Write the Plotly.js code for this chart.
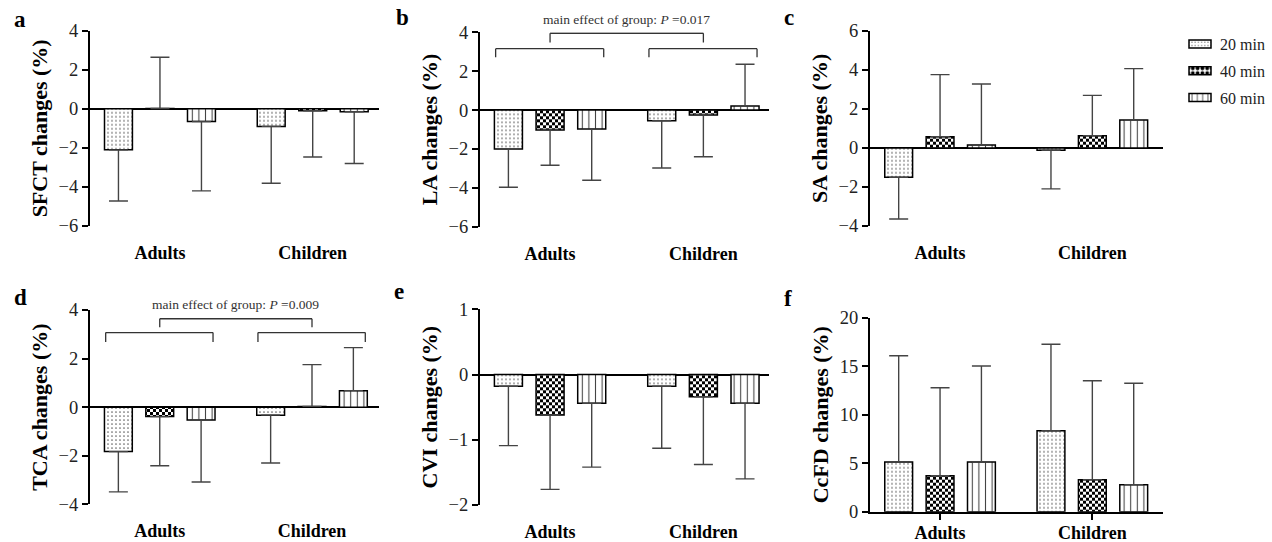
<!DOCTYPE html>
<html>
<head>
<meta charset="utf-8">
<script src="https://cdn.plot.ly/plotly-3.0.1.min.js"></script>
<style>
  html, body { margin: 0; padding: 0; background: #fff; }
  #chart { width: 1272px; height: 542px; }
</style>
</head>
<body>
<div id="chart"></div>
<script>
// ---------------- DATA ----------------
const groups = ['Adults', 'Children'];
const timeNames = ['20 min', '40 min', '60 min'];

// Panel a: SFCT changes (%)
const sfct20 = [-2.10, -0.90], sfct20_sd = [2.62, 2.91];
const sfct40 = [0.02, -0.10],  sfct40_sd = [2.62, 2.37];
const sfct60 = [-0.65, -0.15], sfct60_sd = [3.55, 2.65];

// Panel b: LA changes (%)
const la20 = [-2.00, -0.55], la20_sd = [1.97, 2.43];
const la40 = [-1.03, -0.25], la40_sd = [1.81, 2.15];
const la60 = [-0.98, 0.21],  la60_sd = [2.63, 2.15];

// Panel c: SA changes (%)
const sa20 = [-1.51, -0.12], sa20_sd = [2.13, 1.98];
const sa40 = [0.57, 0.62],   sa40_sd = [3.18, 2.07];
const sa60 = [0.15, 1.43],   sa60_sd = [3.12, 2.63];

// Panel d: TCA changes (%)
const tca20 = [-1.83, -0.33], tca20_sd = [1.66, 1.97];
const tca40 = [-0.39, 0.03],  tca40_sd = [2.02, 1.72];
const tca60 = [-0.53, 0.68],  tca60_sd = [2.55, 1.77];

// Panel e: CVI changes (%)
const cvi20 = [-0.18, -0.18], cvi20_sd = [0.91, 0.95];
const cvi40 = [-0.62, -0.34], cvi40_sd = [1.14, 1.04];
const cvi60 = [-0.44, -0.44], cvi60_sd = [0.98, 1.16];

// Panel f: CcFD changes (%)
const ccfd20 = [5.12, 8.35], ccfd20_sd = [10.96, 8.91];
const ccfd40 = [3.71, 3.30], ccfd40_sd = [9.07, 10.20];
const ccfd60 = [5.13, 2.78], ccfd60_sd = [9.89, 10.46];

const panelLetters = ['a', 'b', 'c', 'd', 'e', 'f'];
const yTitles = ['SFCT changes (%)', 'LA changes (%)', 'SA changes (%)',
                 'TCA changes (%)', 'CVI changes (%)', 'CcFD changes (%)'];
const yRanges = [[-6, 4], [-6, 4], [-4, 6], [-4, 4], [-2, 1], [0, 20]];
const yDtick = [2, 2, 2, 2, 1, 5];
const pLabels = [null, 'main effect of group: <i>P</i> =0.017', null,
                 'main effect of group: <i>P</i> =0.009', null, null];

const panelData = [
  [[sfct20, sfct20_sd], [sfct40, sfct40_sd], [sfct60, sfct60_sd]],
  [[la20, la20_sd], [la40, la40_sd], [la60, la60_sd]],
  [[sa20, sa20_sd], [sa40, sa40_sd], [sa60, sa60_sd]],
  [[tca20, tca20_sd], [tca40, tca40_sd], [tca60, tca60_sd]],
  [[cvi20, cvi20_sd], [cvi40, cvi40_sd], [cvi60, cvi60_sd]],
  [[ccfd20, ccfd20_sd], [ccfd40, ccfd40_sd], [ccfd60, ccfd60_sd]]
];

// ---------------- STYLE / LAYOUT ----------------
const W = 1272, H = 542;
const FONT = 'Liberation Serif, Times New Roman, serif';
// pixel boxes of each plotting area [x0, x1, yTop, yBottom]
const boxes = [
  [90, 379, 30.7, 226], [480, 769.3, 32.3, 226.7], [870, 1162.7, 30.7, 226],
  [90, 379, 310, 504.3], [480, 769.3, 309.3, 505], [870, 1162.7, 317.7, 511.7]
];
const xRanges = [[-0.458, 1.434], [-0.457, 1.43], [-0.46, 1.462],
                 [-0.458, 1.44], [-0.457, 1.43], [-0.46, 1.462]];

const patterns = [
  {shape: '.', size: 4, solidity: 0.14, fgcolor: '#666', bgcolor: '#fff'},
  {shape: '.', size: 6, solidity: 0.5, fgcolor: '#000', bgcolor: '#fff'},
  {shape: '|', size: 6.6, solidity: 0.16, fgcolor: '#444', bgcolor: '#fff'}
];

const traces = [];
panelData.forEach((series, p) => {
  const suf = p === 0 ? '' : String(p + 1);
  series.forEach(([means, sds], t) => {
    const up = means.map((m, i) => m >= 0 ? sds[i] : 0);
    const dn = means.map((m, i) => m < 0 ? sds[i] : 0);
    traces.push({
      type: 'bar', x: groups, y: means, name: timeNames[t],
      xaxis: 'x' + suf, yaxis: 'y' + suf,
      legendgroup: timeNames[t], showlegend: p === 0,
      marker: {color: '#fff', line: {color: '#000', width: 1.5}, pattern: patterns[t]},
      error_y: {type: 'data', symmetric: false, array: up, arrayminus: dn,
                color: '#444', thickness: 1.4, width: 9.5},
      hoverinfo: 'none'
    });
  });
});

const layout = {
  width: W, height: H,
  margin: {l: 0, r: 0, t: 0, b: 0},
  paper_bgcolor: '#fff', plot_bgcolor: 'rgba(0,0,0,0)',
  font: {family: FONT, color: '#000'},
  barmode: 'group', bargap: 0.185, bargroupgap: 0.327,
  showlegend: true,
  legend: {x: 1180 / W, y: 1 - 27 / H, xanchor: 'left', yanchor: 'top',
           font: {family: FONT, size: 16, color: '#222'}, tracegroupgap: 3,
           bgcolor: 'rgba(0,0,0,0)'},
  shapes: [], annotations: []
};

boxes.forEach((b, p) => {
  const suf = p === 0 ? '' : String(p + 1);
  const isF = p === 5;
  layout['xaxis' + suf] = {
    domain: [b[0] / W, b[1] / W], anchor: 'y' + suf, type: 'category',
    range: xRanges[p], showgrid: false, zeroline: false,
    showline: isF, linecolor: '#000', linewidth: 2,
    ticks: isF ? 'outside' : '', ticklen: 6, tickwidth: 2, tickcolor: '#000',
    ticklabelstandoff: isF ? -2 : 14,
    tickfont: {family: FONT, size: 18, color: '#000', weight: 'bold'},
    fixedrange: true
  };
  layout['yaxis' + suf] = {
    domain: [1 - b[3] / H, 1 - b[2] / H], anchor: 'x' + suf,
    range: yRanges[p], dtick: yDtick[p], tick0: 0,
    showgrid: false, zeroline: !isF, zerolinecolor: '#000', zerolinewidth: 2,
    showline: true, linecolor: '#000', linewidth: 2,
    ticks: 'outside', ticklen: 6, tickwidth: 2, tickcolor: '#000',
    tickfont: {family: FONT, size: 18.5, color: '#222'},
    title: {text: '<b>' + yTitles[p] + '</b>', font: {family: FONT, size: 22, color: '#000'}, standoff: 5},
    fixedrange: true
  };
});

// panel letters
const letterPos = [[12, 19.3], [394, 17.3], [782, 17.3], [12, 297.3], [392, 291.3], [782, 298]];
letterPos.forEach(([px, py], p) => {
  layout.annotations.push({
    xref: 'paper', yref: 'paper', x: px / W, y: 1 - py / H,
    xanchor: 'left', yanchor: 'middle', showarrow: false,
    text: '<b>' + panelLetters[p] + '</b>',
    font: {family: FONT, size: 23, color: '#000'}
  });
});

// significance brackets (panels b and d)
const bracketSpec = {1: {low: [2.72, 3.16], high: [3.47, 3.95], text: 1.067},
                     3: {low: [2.68, 3.07], high: [3.29, 3.64], text: 1.026}};
Object.keys(bracketSpec).forEach(k => {
  const p = +k, s = bracketSpec[k];
  const suf = String(p + 1);
  const ln = (x0, y0, x1, y1) => layout.shapes.push({
    type: 'line', xref: 'x' + suf, yref: 'y' + suf, x0, y0, x1, y1,
    line: {color: '#333', width: 1.3}, layer: 'above'
  });
  [0, 1].forEach(g => {
    ln(g - 0.355, s.low[0], g - 0.355, s.low[1]);
    ln(g - 0.355, s.low[1], g + 0.35, s.low[1]);
    ln(g + 0.35, s.low[1], g + 0.35, s.low[0]);
  });
  ln(0, s.high[0], 0, s.high[1]);
  ln(0, s.high[1], 1, s.high[1]);
  ln(1, s.high[1], 1, s.high[0]);
  layout.annotations.push({
    xref: 'x' + suf, yref: 'y' + suf + ' domain', x: 0.5, y: s.text,
    xanchor: 'center', yanchor: 'middle', showarrow: false,
    text: pLabels[p], font: {family: FONT, size: 13.5, color: '#333'}
  });
});

const gd = document.getElementById('chart');
Plotly.newPlot(gd, traces, layout, {staticPlot: true, displayModeBar: false}).then(() => {
  // checkerboard fill for the 40 min series
  const svgNS = 'http://www.w3.org/2000/svg';
  const defs = gd.querySelector('svg.main-svg defs');
  const pat = document.createElementNS(svgNS, 'pattern');
  pat.setAttribute('id', 'checker40');
  pat.setAttribute('patternUnits', 'userSpaceOnUse');
  pat.setAttribute('width', '6'); pat.setAttribute('height', '6');
  [[0, 0, 6, 6, '#fff'], [0, 0, 3, 3, '#000'], [3, 3, 3, 3, '#000']].forEach(r => {
    const e = document.createElementNS(svgNS, 'rect');
    e.setAttribute('x', r[0]); e.setAttribute('y', r[1]);
    e.setAttribute('width', r[2]); e.setAttribute('height', r[3]);
    e.setAttribute('fill', r[4]);
    pat.appendChild(e);
  });
  defs.appendChild(pat);
  gd.querySelectorAll('.barlayer .trace').forEach(g => {
    const d = g.__data__;
    if (d && d[0] && d[0].trace && d[0].trace.name === '40 min') {
      g.querySelectorAll('.point path').forEach(pth => { pth.style.fill = 'url(#checker40)'; });
    }
  });
  // legend symbols: wide flat boxes like the original
  gd.querySelectorAll('.legend .traces').forEach(g => {
    const d = g.__data__;
    const tr = d && d[0] && d[0][0] && d[0][0].trace;
    g.querySelectorAll('.legendpoints path').forEach(pth => {
      pth.setAttribute('d', 'M-11,-4H11V4H-11Z');
      if (tr && tr.name === '40 min') pth.style.fill = 'url(#checker40)';
    });
  });
});
</script>
</body>
</html>
